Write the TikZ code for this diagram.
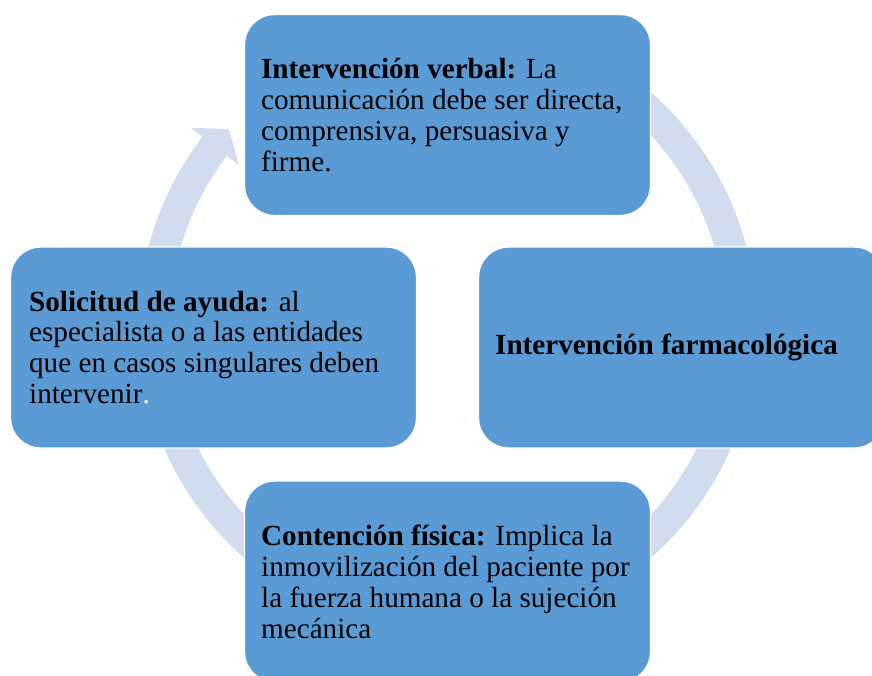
\documentclass[tikz,border=0pt]{standalone}
\usepackage{fontspec}
\setmainfont{Liberation Serif}
\usetikzlibrary{positioning,calc}

\hyphenpenalty=10000
\exhyphenpenalty=10000

\definecolor{boxblue}{HTML}{5B9BD5}
\definecolor{ringblue}{HTML}{D1DDEF}

\tikzset{
  stage/.style={draw=white, line width=0.8pt, fill=boxblue, rounded corners=0.6cm,
                minimum width=8.12cm, minimum height=4.02cm, inner sep=0pt},
  stagetext/.style={inner sep=0pt, text width=7.45cm, align=flush left,
                    font=\fontsize{16.6}{17.6}\selectfont},
  ring/.style={draw=ringblue, line width=0.62cm},
}

\begin{document}
\begin{tikzpicture}
\useasboundingbox (0,0) rectangle (17.44,-13.5);

\coordinate (c) at (8.95,-6.5);

%cycle arrow behind the boxes
\draw[ring] ($(c)+(120:5.87)$) arc (120:-217.5:5.87);
\fill[ringblue] ($(c)+(142.5:6.48)$) -- ($(c)+(138.1:5.87)$) -- ($(c)+(142.5:5.26)$) -- cycle;

%boxes
\node[stage] (verbal)  at (8.95,-2.30)  {};
\node[stage] (farmaco) at (13.63,-6.95) {};
\node[stage] (fisica)  at (8.95,-11.63) {};
\node[stage] (ayuda)   at (4.27,-6.95)  {};

%texts
\node[stagetext, right=0.34cm of verbal.west] (verbaltext)
  {\textbf{Intervención verbal:} La comunicación debe ser directa, comprensiva, persuasiva y firme.};
\node[stagetext, right=0.34cm of farmaco.west] (farmacotext)
  {\textbf{Intervención farmacológica}};
\node[stagetext, right=0.34cm of fisica.west] (fisicatext)
  {\textbf{Contención física:} Implica la inmovilización del paciente por la fuerza humana o la sujeción mecánica};
\node[stagetext, text width=7.3cm, right=0.38cm of ayuda.west] (ayudatext)
  {\textbf{Solicitud de ayuda:} al especialista o a las entidades que en casos singulares deben intervenir{\color{white}.}};

\end{tikzpicture}
\end{document}
